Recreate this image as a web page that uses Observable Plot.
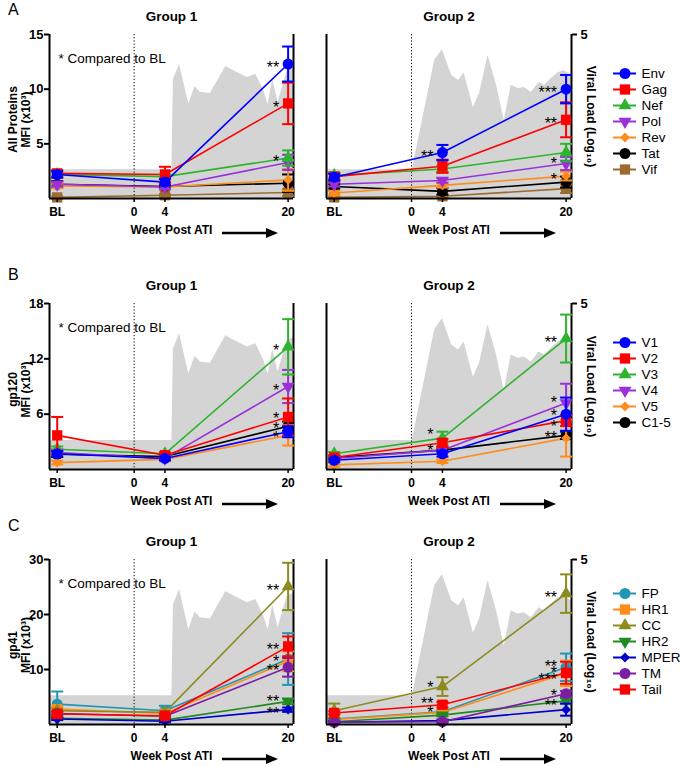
<!DOCTYPE html>
<html><head><meta charset="utf-8">
<script src="https://cdn.jsdelivr.net/npm/d3@7"></script>
<script src="https://cdn.jsdelivr.net/npm/@observablehq/plot@0.6"></script>
<style>
body{margin:0;background:#fff;}
#root{position:relative;width:680px;height:766px;font-family:"Liberation Sans",Arial,Helvetica,sans-serif;overflow:hidden;background:#fff}
#root svg{position:absolute}
.letter{position:absolute;left:8px;font-size:16px;line-height:16px;color:#000}
</style></head><body><div id="root"></div>
<script>
// ---------- shared axis data ----------
const WEEKS = [-10, 4, 20];               // BL, week 4, week 20 post ATI
const X_TICKS = [-10, 0, 4, 20];
const X_TICK_LABELS = ["BL", "0", "4", "20"];
const X_DOMAIN = [-11, 20.7];
const VL_DOMAIN = [1, 5];
const VL_TICKS = [5];

// ---------- viral load (log10) ----------
const vlWeeks1 = [-11, 4.9, 5.1, 5.9, 7.1, 7.9, 8.6, 9.9, 11.9, 12.9, 14.7, 15.8, 16.8, 17.4, 18.0, 18.7, 19.9, 20.7];
const vlLog1   = [1.7, 1.7, 3.9, 4.27, 3.3, 3.73, 3.59, 3.56, 4.22, 4.12, 3.95, 4.03, 3.65, 3.3, 3.9, 3.35, 4.12, 4.17];
const vlWeeks2 = [-11, 0.1, 3.0, 4.0, 5.2, 6.1, 6.8, 8.0, 8.8, 9.9, 11.0, 12.0, 12.9, 13.8, 14.6, 15.5, 16.5, 17.2, 18.1, 19.0, 19.7, 20.7];
const vlLog2   = [1.7, 1.7, 4.37, 4.63, 4.0, 3.88, 4.07, 3.22, 3.56, 4.49, 3.76, 2.9, 3.76, 3.68, 3.71, 3.59, 3.83, 3.76, 3.93, 4.07, 4.12, 4.0];

// ---------- Row A: all proteins ----------
const seriesA = ["Env", "Gag", "Nef", "Pol", "Rev", "Tat", "Vif"];
const colorsA = ["#0000ff", "#ff0000", "#2db32d", "#9b30d9", "#ff8c1a", "#000000", "#9c6b30"];
const symbolsA = ["circle", "square", "triangle", "triangle-down", "diamond", "circle", "square"];
const yTicksA = [5, 10, 15];
const meanA1 = [[2.2, 1.5, 12.3], [2.3, 2.2, 8.7], [2.2, 2.0, 3.7], [1.3, 1.05, 3.3], [1.15, 1.05, 1.7], [1.3, 1.1, 1.4], [0.1, 0.3, 0.55]];
const errA1  = [[0.3, 0.3, 1.6], [0.3, 0.7, 1.9], [0.2, 0.2, 0.7], [0.2, 0.2, 0.7], [0.2, 0.2, 1.0], [0.3, 0.2, 0.8], [0.1, 0.1, 0.3]];
const meanA2 = [[1.95, 4.2, 10.0], [2.0, 2.95, 7.2], [2.1, 2.7, 4.2], [1.3, 1.65, 3.2], [0.5, 1.2, 2.05], [1.1, 0.65, 1.5], [0.1, 0.2, 0.9]];
const errA2  = [[0.3, 0.7, 1.3], [0.3, 0.6, 1.6], [0.3, 0.3, 0.8], [0.2, 0.2, 0.6], [0.2, 0.2, 0.4], [0.2, 0.3, 0.5], [0.1, 0.1, 0.4]];
// significance marks: [series, week, label, optional level]
const starsA1 = [["Env", 20, "**"], ["Gag", 20, "*"], ["Nef", 20, "*"]];
const starsA2 = [["Env", 4, "**"], ["Env", 20, "***"], ["Gag", 20, "**"], ["Pol", 20, "*", 3.5], ["Rev", 20, "*"]];

// ---------- Row B: gp120 ----------
const seriesB = ["V1", "V2", "V3", "V4", "V5", "C1-5"];
const colorsB = ["#0000ff", "#ff0000", "#2db32d", "#9b30d9", "#ff8c1a", "#000000"];
const symbolsB = ["circle", "square", "triangle", "triangle-down", "diamond", "circle"];
const yTicksB = [6, 12, 18];
const meanB1 = [[1.7, 1.2, 4.1], [3.7, 1.55, 5.7], [2.2, 1.7, 13.3], [1.85, 1.2, 9.0], [0.75, 1.1, 3.7], [1.65, 1.4, 4.7]];
const errB1  = [[0.3, 0.2, 0.6], [2.0, 0.2, 2.0], [0.3, 0.2, 3.0], [0.3, 0.2, 1.8], [0.2, 0.2, 1.1], [0.3, 0.2, 0.5]];
const meanB2 = [[1.0, 1.7, 6.0], [1.3, 2.9, 5.3], [1.7, 3.4, 14.2], [1.2, 2.1, 7.2], [0.5, 0.9, 3.4], [1.3, 2.1, 3.7]];
const errB2  = [[0.2, 0.3, 1.8], [0.2, 0.4, 0.6], [0.2, 0.7, 2.6], [0.2, 0.3, 2.1], [0.2, 0.2, 2.0], [0.2, 0.2, 0.4]];
const starsB1 = [["V3", 20, "*"], ["V4", 20, "*"], ["V2", 20, "*", 5.9], ["C1-5", 20, "*", 4.8], ["V1", 20, "*", 3.9]];
const starsB2 = [["V3", 4, "*", 4.2], ["V2", 4, "*", 2.5], ["V3", 20, "**"], ["V4", 20, "*", 7.7], ["V1", 20, "*", 6.2], ["V2", 20, "*", 5.1], ["C1-5", 20, "**", 3.9]];

// ---------- Row C: gp41 ----------
const seriesC = ["FP", "HR1", "CC", "HR2", "MPER", "TM", "Tail"];
const colorsC = ["#2196b4", "#ff8c1a", "#8c8c1e", "#1f8a1f", "#0000cc", "#7b1fa2", "#ff0000"];
const symbolsC = ["circle", "square", "triangle", "triangle-down", "diamond", "circle", "square"];
const yTicksC = [10, 20, 30];
const meanC1 = [[3.7, 2.5, 11.9], [2.8, 2.0, 11.5], [2.5, 2.2, 25.1], [1.15, 0.8, 4.2], [1.0, 0.6, 2.7], [2.0, 1.5, 10.4], [1.9, 1.6, 14.2]];
const errC1  = [[2.3, 0.9, 4.7], [0.4, 0.3, 1.8], [0.4, 0.3, 4.3], [0.2, 0.2, 0.5], [0.2, 0.2, 0.4], [0.3, 0.3, 1.7], [0.5, 0.4, 1.8]];
const meanC2 = [[1.0, 2.3, 10.4], [0.9, 2.2, 9.3], [2.5, 6.9, 23.8], [0.5, 1.7, 4.3], [0.4, 0.7, 2.7], [0.4, 0.5, 5.6], [2.1, 3.6, 9.4]];
const errC2  = [[0.2, 0.3, 2.5], [0.2, 0.3, 2.3], [1.3, 1.7, 3.5], [0.2, 0.2, 0.5], [0.2, 0.2, 1.1], [0.2, 0.2, 0.5], [0.3, 0.5, 2.0]];
const starsC1 = [["CC", 20, "**"], ["Tail", 20, "**", 14.3], ["HR1", 20, "*", 12.2], ["TM", 20, "**", 10.5], ["HR2", 20, "**", 4.8], ["MPER", 20, "**", 2.7]];
const starsC2 = [["CC", 4, "*", 7.4], ["Tail", 4, "**", 4.5], ["HR1", 4, "*", 2.8], ["CC", 20, "**"], ["FP", 20, "**", 11.2], ["HR1", 20, "*", 10.1], ["Tail", 20, "***", 8.9], ["TM", 20, "*", 6.0], ["HR2", 20, "**", 4.2]];

// ---------- rendering ----------
const FONT = '"Liberation Sans", Arial, Helvetica, sans-serif';
const MT = 34, MB = 44;
const SYM = {
  "circle": {symbol: "circle", r: 5.5, rotate: 0},
  "square": {symbol: "square", r: 5.8, rotate: 0},
  "triangle": {symbol: "triangle", r: 4.8, rotate: 0},
  "triangle-down": {symbol: "triangle", r: 4.8, rotate: 180},
  "diamond": {symbol: "diamond2", r: 4.4, rotate: 0}
};
const CAP = {draw(ctx, size) { const r = Math.sqrt(size / Math.PI); ctx.moveTo(-1.5 * r, 0); ctx.lineTo(1.5 * r, 0); }};
const GEOM = {1: {left: 0, width: 300, ml: 49, mr: 7}, 2: {left: 300, width: 300, ml: 26, mr: 29}};
const root = document.getElementById("root");
const baseStyle = {fontFamily: FONT, fontWeight: "bold", fontSize: "12px", background: "transparent", overflow: "visible"};

function place(el, left, top) { el.style.left = left + "px"; el.style.top = top + "px"; root.appendChild(el); }

function vlPlot(g, plotH) {
  const G = GEOM[g];
  const w = g === 1 ? vlWeeks1 : vlWeeks2, v = g === 1 ? vlLog1 : vlLog2;
  const data = w.map((x, i) => ({week: x, vl: v[i]}));
  const marks = [
    Plot.areaY(data, {x: "week", y1: VL_DOMAIN[0], y2: "vl", fill: "#d4d4d4", clip: true}),
    Plot.ruleX([X_DOMAIN[1]], {stroke: "#000", strokeWidth: 2})
  ];
  if (g === 2) {
    marks.push(Plot.axisY({anchor: "right", ticks: VL_TICKS, tickSize: 5, tickPadding: 4, tickFormat: d3.format("d"), label: null, fontSize: 13, strokeWidth: 2}));
    marks.push(Plot.text(["Viral Load (Log\u2081\u2080)"], {text: d => d, frameAnchor: "right", textAnchor: "middle", dx: 19, rotate: 90, fontSize: 12}));
  }
  return Plot.plot({
    width: G.width, height: MT + plotH + MB, marginTop: MT, marginBottom: MB, marginLeft: G.ml, marginRight: G.mr,
    x: {domain: X_DOMAIN, axis: null}, y: {domain: VL_DOMAIN, axis: null},
    style: {...baseStyle, background: "white"}, marks
  });
}

function mfiPlot(cfg, g) {
  const G = GEOM[g];
  const {series, colors, symbols} = cfg;
  const means = cfg.means[g - 1], errs = cfg.errs[g - 1], stars = cfg.stars[g - 1];
  const rows = series.map((s, i) => WEEKS.map((w, j) => ({series: s, week: w, mean: means[i][j], lo: Math.max(0, means[i][j] - errs[i][j]), hi: means[i][j] + errs[i][j]})));
  const order = series.map((_, i) => i);
  if (cfg.reverse) order.reverse();
  const marks = [Plot.ruleX([0], {stroke: "#000", strokeWidth: 1, strokeDasharray: "1.2,2"})];
  for (const i of order) marks.push(Plot.line(rows[i], {x: "week", y: "mean", stroke: colors[i], strokeWidth: 1.6}));
  for (const i of order) {
    const sp = SYM[symbols[i]];
    marks.push(Plot.ruleX(rows[i], {x: "week", y1: "lo", y2: "hi", stroke: colors[i], strokeWidth: 2}));
    marks.push(Plot.dot(rows[i], {x: "week", y: "hi", symbol: CAP, r: 4, stroke: colors[i], fill: "none", strokeWidth: 2}));
    marks.push(Plot.dot(rows[i], {x: "week", y: "lo", symbol: CAP, r: 4, stroke: colors[i], fill: "none", strokeWidth: 2}));
    marks.push(Plot.dot(rows[i], {x: "week", y: "mean", symbol: sp.symbol, r: sp.r, rotate: sp.rotate, fill: colors[i], stroke: "none"}));
  }
  const starRows = stars.map(([s, w, label, level]) => ({week: w, level: level ?? means[series.indexOf(s)][WEEKS.indexOf(w)], label}));
  marks.push(Plot.text(starRows, {x: "week", y: "level", text: "label", textAnchor: "end", dx: -9, dy: 4, fontSize: 16, fontWeight: "normal"}));
  marks.push(Plot.ruleX([X_DOMAIN[0]], {stroke: "#000", strokeWidth: 2}));
  marks.push(Plot.ruleY([0], {stroke: "#000", strokeWidth: 2}));
  marks.push(Plot.axisX({ticks: X_TICKS, tickFormat: d => X_TICK_LABELS[X_TICKS.indexOf(d)], tickSize: 4, tickPadding: 5, label: null, fontSize: 12, strokeWidth: 1.5}));
  marks.push(Plot.text(["Group " + g], {text: d => d, frameAnchor: "top", dy: -23, fontSize: 13.5}));
  marks.push(Plot.text(["Week Post ATI"], {text: d => d, frameAnchor: "bottom", dy: 35, fontSize: 12}));
  if (g === 1) {
    marks.push(Plot.axisY({anchor: "left", ticks: cfg.yTicks, tickSize: 5, tickPadding: 1, label: null, fontSize: 13, strokeWidth: 2}));
    marks.push(Plot.text(["* Compared to BL"], {text: d => d, frameAnchor: "top-left", dx: 9, dy: 19, textAnchor: "start", fontSize: 13.5, fontWeight: "normal"}));
    marks.push(Plot.text([cfg.ylabel + "\nMFI (x10\u00b3)"], {text: d => d, frameAnchor: "left", textAnchor: "middle", dx: -30.5, dy: 3, rotate: -90, fontSize: 12, lineHeight: 1.08}));
  }
  return Plot.plot({
    width: G.width, height: MT + cfg.plotH + MB, marginTop: MT, marginBottom: MB, marginLeft: G.ml, marginRight: G.mr,
    x: {domain: X_DOMAIN, axis: null}, y: {domain: [0, cfg.yMax], axis: null},
    style: baseStyle, marks
  });
}

function legendPlot(cfg) {
  const {series, colors, symbols} = cfg;
  const n = series.length;
  const marks = [];
  series.forEach((s, i) => {
    const sp = SYM[symbols[i]];
    marks.push(Plot.ruleY([s], {y: d => d, x1: 0, x2: 1, stroke: colors[i], strokeWidth: 2}));
    marks.push(Plot.dot([s], {x: 0.5, y: d => d, symbol: sp.symbol, r: sp.r, rotate: sp.rotate, fill: colors[i], stroke: "none"}));
  });
  marks.push(Plot.text(series, {x: 1, y: d => d, text: d => d, dx: 5, textAnchor: "start", fontSize: 13.5, fontWeight: "normal"}));
  return Plot.plot({
    width: 75, height: 20 + (n - 1) * cfg.legendStep,
    x: {domain: [0, 1], range: [8, 31], axis: null},
    y: {type: "point", domain: series, range: [10, 10 + (n - 1) * cfg.legendStep], axis: null},
    style: baseStyle, marks
  });
}

function arrow(left, top) {
  const ns = "http://www.w3.org/2000/svg";
  const s = document.createElementNS(ns, "svg");
  s.setAttribute("width", 58); s.setAttribute("height", 12);
  s.innerHTML = '<line x1="0" y1="6" x2="46" y2="6" stroke="#000" stroke-width="2.5"/><polygon points="44,1 56,6 44,11" fill="#000"/>';
  place(s, left, top - 6);
}

function renderRow(cfg) {
  for (const g of [1, 2]) {
    const G = GEOM[g];
    place(vlPlot(g, cfg.plotH), G.left, cfg.top);
    place(mfiPlot(cfg, g), G.left, cfg.top);
    const cx = G.left + G.ml + (G.width - G.ml - G.mr) / 2;
    arrow(cx + 51, cfg.top + MT + cfg.plotH + 35);
  }
  place(legendPlot(cfg), 605, cfg.legendTop - 10);
  const L = document.createElement("div");
  L.className = "letter"; L.textContent = cfg.letter;
  root.appendChild(L); L.style.top = cfg.letterTop + "px";
}

renderRow({letter: "A", letterTop: 2, top: 0, plotH: 164, yMax: 15, yTicks: yTicksA, ylabel: "All Proteins",
  series: seriesA, colors: colorsA, symbols: symbolsA, means: [meanA1, meanA2], errs: [errA1, errA2], stars: [starsA1, starsA2],
  reverse: true, legendTop: 64, legendStep: 18.9});
renderRow({letter: "B", letterTop: 267, top: 269, plotH: 166, yMax: 18, yTicks: yTicksB, ylabel: "gp120",
  series: seriesB, colors: colorsB, symbols: symbolsB, means: [meanB1, meanB2], errs: [errB1, errB2], stars: [starsB1, starsB2],
  reverse: true, legendTop: 333, legendStep: 19.4});
renderRow({letter: "C", letterTop: 518, top: 525, plotH: 165, yMax: 30, yTicks: yTicksC, ylabel: "gp41",
  series: seriesC, colors: colorsC, symbols: symbolsC, means: [meanC1, meanC2], errs: [errC1, errC2], stars: [starsC1, starsC2],
  reverse: false, legendTop: 584, legendStep: 19.0});
</script></body></html>
